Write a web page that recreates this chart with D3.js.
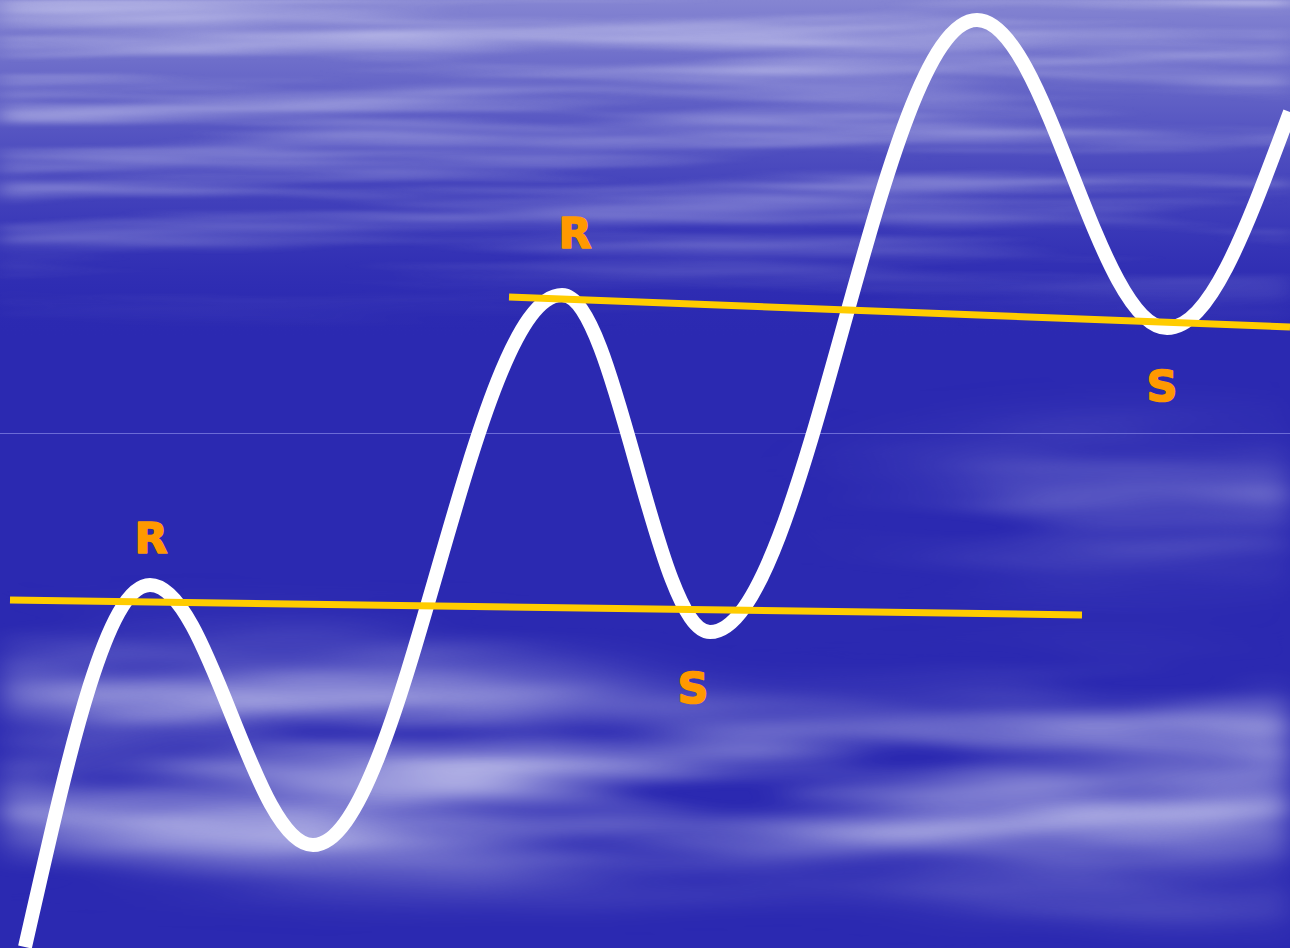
<!DOCTYPE html>
<html>
<head>
<meta charset="utf-8">
<script src="https://cdn.jsdelivr.net/npm/d3@7"></script>
<style>
  html, body { margin: 0; padding: 0; background: #2b29b1; }
  svg { display: block; }
</style>
</head>
<body>
<div id="chart"></div>
<script>
// ---- data (time units, price units): start, swing highs/lows, end ----
const priceTime  = [2.5, 15.0, 31.3, 56.2, 71.0, 97.7, 116.7, 129.0];
const priceValue = [0.1, 36.3, 10.3, 65.3, 31.6, 92.8, 62.0, 83.6];

const levelNames = ["lower", "upper"];
const levelStartTime  = [1.0, 50.9];
const levelEndTime    = [108.2, 129.0];
const levelStartPrice = [34.8, 65.1];
const levelEndPrice   = [33.3, 62.1];

const labelText  = ["R", "S", "R", "S"];
const labelTime  = [15.1, 69.3, 57.5, 116.2];
const labelPrice = [39.5, 24.5, 70.0, 54.7];

// ---- layout ----
const W = 1290, H = 948;
const x = d3.scaleLinear().domain([0, 129]).range([0, W]);
const y = d3.scaleLinear().domain([0, 94.8]).range([H, 0]);

// smooth swing curve: horizontal tangents at swing points (sine-like arcs)
function curveSwing(context) {
  return {
    areaStart() {}, areaEnd() {},
    lineStart() { this._p = []; },
    point(px, py) { this._p.push([+px, +py]); },
    lineEnd() {
      const p = this._p, n = p.length, a = 0.364, b = 0.33;
      if (!n) return;
      context.moveTo(p[0][0], p[0][1]);
      for (let i = 1; i < n; i++) {
        const [x0, y0] = p[i - 1], [x1, y1] = p[i];
        const dx = x1 - x0, dy = y1 - y0;
        const c0 = (i - 1 === 0) ? [x0 + b * dx, y0 + 0.5 * dy] : [x0 + a * dx, y0];
        const c1 = (i === n - 1) ? [x1 - b * dx, y1 - 0.5 * dy] : [x1 - a * dx, y1];
        context.bezierCurveTo(c0[0], c0[1], c1[0], c1[1], x1, y1);
      }
    }
  };
}

const svg = d3.select("#chart").append("svg").attr("width", W).attr("height", H);
const defs = svg.append("defs");

// background gradients & textures
const topGrad = defs.append("linearGradient").attr("id", "topGrad")
  .attr("gradientUnits", "userSpaceOnUse").attr("x1", 0).attr("y1", 0).attr("x2", 0).attr("y2", 340);
topGrad.append("stop").attr("offset", 0).attr("stop-color", "#8585d2").attr("stop-opacity", 1);
topGrad.append("stop").attr("offset", 0.3).attr("stop-color", "#6262c6").attr("stop-opacity", 0.95);
topGrad.append("stop").attr("offset", 0.65).attr("stop-color", "#4342bc").attr("stop-opacity", 0.7);
topGrad.append("stop").attr("offset", 1).attr("stop-color", "#2b29b1").attr("stop-opacity", 0);

const topMaskGrad = defs.append("linearGradient").attr("id", "topMaskGrad")
  .attr("gradientUnits", "userSpaceOnUse").attr("x1", 0).attr("y1", 0).attr("x2", 0).attr("y2", 330);
topMaskGrad.append("stop").attr("offset", 0).attr("stop-color", "#fff").attr("stop-opacity", 0.8);
topMaskGrad.append("stop").attr("offset", 0.6).attr("stop-color", "#fff").attr("stop-opacity", 0.55);
topMaskGrad.append("stop").attr("offset", 1).attr("stop-color", "#fff").attr("stop-opacity", 0);
defs.append("mask").attr("id", "topMask").attr("maskUnits", "userSpaceOnUse")
  .attr("x", 0).attr("y", 0).attr("width", W).attr("height", H)
  .append("rect").attr("width", W).attr("height", 340).attr("fill", "url(#topMaskGrad)");

const streak = defs.append("filter").attr("id", "streak").attr("filterUnits", "userSpaceOnUse")
  .attr("x", 0).attr("y", 0).attr("width", W).attr("height", H);
streak.append("feTurbulence").attr("type", "fractalNoise").attr("baseFrequency", "0.002 0.04")
  .attr("numOctaves", 3).attr("seed", 11).attr("result", "n");
streak.append("feColorMatrix").attr("in", "n").attr("type", "matrix").attr("result", "c")
  .attr("values", "0 0 0 0 0.72  0 0 0 0 0.72  0 0 0 0 0.92  1.6 0 0 0 -0.6");
streak.append("feGaussianBlur").attr("in", "c").attr("stdDeviation", "12 1.5");

const cloud = defs.append("filter").attr("id", "cloud").attr("filterUnits", "userSpaceOnUse")
  .attr("x", 0).attr("y", 0).attr("width", W).attr("height", H);
cloud.append("feTurbulence").attr("type", "fractalNoise").attr("baseFrequency", "0.0018 0.014")
  .attr("numOctaves", 3).attr("seed", 5).attr("result", "n");
cloud.append("feColorMatrix").attr("in", "n").attr("type", "matrix").attr("result", "c")
  .attr("values", "0 0 0 0 0.68  0 0 0 0 0.68  0 0 0 0 0.9  2.0 0 0 0 -0.6");
cloud.append("feGaussianBlur").attr("in", "c").attr("stdDeviation", "14 4");

const blur = defs.append("filter").attr("id", "softBlur").attr("x", "-50%").attr("y", "-50%").attr("width", "200%").attr("height", "200%");
blur.append("feGaussianBlur").attr("stdDeviation", "70 32");

const lowMask = defs.append("mask").attr("id", "lowMask").attr("maskUnits", "userSpaceOnUse")
  .attr("x", 0).attr("y", 0).attr("width", W).attr("height", H);
const lm = lowMask.append("g").attr("filter", "url(#softBlur)");
lm.append("ellipse").attr("cx", 250).attr("cy", 690).attr("rx", 330).attr("ry", 45).attr("fill", "#bbb");
lm.append("ellipse").attr("cx", 600).attr("cy", 790).attr("rx", 700).attr("ry", 75).attr("fill", "#fff");
lm.append("ellipse").attr("cx", 1100).attr("cy", 760).attr("rx", 300).attr("ry", 70).attr("fill", "#fff");
lm.append("ellipse").attr("cx", 1130).attr("cy", 500).attr("rx", 240).attr("ry", 55).attr("fill", "#aaa");
lm.append("ellipse").attr("cx", 1150).attr("cy", 870).attr("rx", 220).attr("ry", 35).attr("fill", "#999");

// base
const bg = svg.append("g").attr("class", "background");
bg.append("rect").attr("width", W).attr("height", H).attr("fill", "#2b29b1");
bg.append("rect").attr("width", W).attr("height", 433).attr("fill", "url(#topGrad)");
bg.append("g").attr("mask", "url(#topMask)")
  .append("rect").attr("width", W).attr("height", 433).attr("fill", "#fff").attr("filter", "url(#streak)");
bg.append("g").attr("mask", "url(#lowMask)")
  .append("rect").attr("y", 434).attr("width", W).attr("height", H - 434).attr("fill", "#fff").attr("filter", "url(#cloud)");
bg.append("rect").attr("x", 0).attr("y", 433).attr("width", W).attr("height", 1).attr("fill", "#6b6bd6");

// price curve
const pts = priceTime.map((t, i) => [t, priceValue[i]]);
const line = d3.line().x(d => x(d[0])).y(d => y(d[1])).curve(curveSwing);
svg.append("path").datum(pts)
  .attr("d", line)
  .attr("fill", "none")
  .attr("stroke", "#ffffff")
  .attr("stroke-width", 14)
  .attr("stroke-linejoin", "round");

// support / resistance lines
svg.append("g").selectAll("line").data(levelNames).join("line")
  .attr("x1", (d, i) => x(levelStartTime[i]))
  .attr("y1", (d, i) => y(levelStartPrice[i]))
  .attr("x2", (d, i) => x(levelEndTime[i]))
  .attr("y2", (d, i) => y(levelEndPrice[i]))
  .attr("stroke", "#ffcc00")
  .attr("stroke-width", 7);

// labels
svg.append("g").selectAll("text").data(labelText).join("text")
  .attr("x", (d, i) => x(labelTime[i]))
  .attr("y", (d, i) => y(labelPrice[i]))
  .attr("text-anchor", "middle")
  .attr("font-family", "'DejaVu Sans', 'Liberation Sans', sans-serif")
  .attr("font-weight", 900)
  .attr("font-size", 43)
  .attr("fill", "#ff9900")
  .attr("stroke", "#ff9900")
  .attr("stroke-width", 1.6)
  .attr("stroke-linejoin", "round")
  .text(d => d);
</script>
</body>
</html>
